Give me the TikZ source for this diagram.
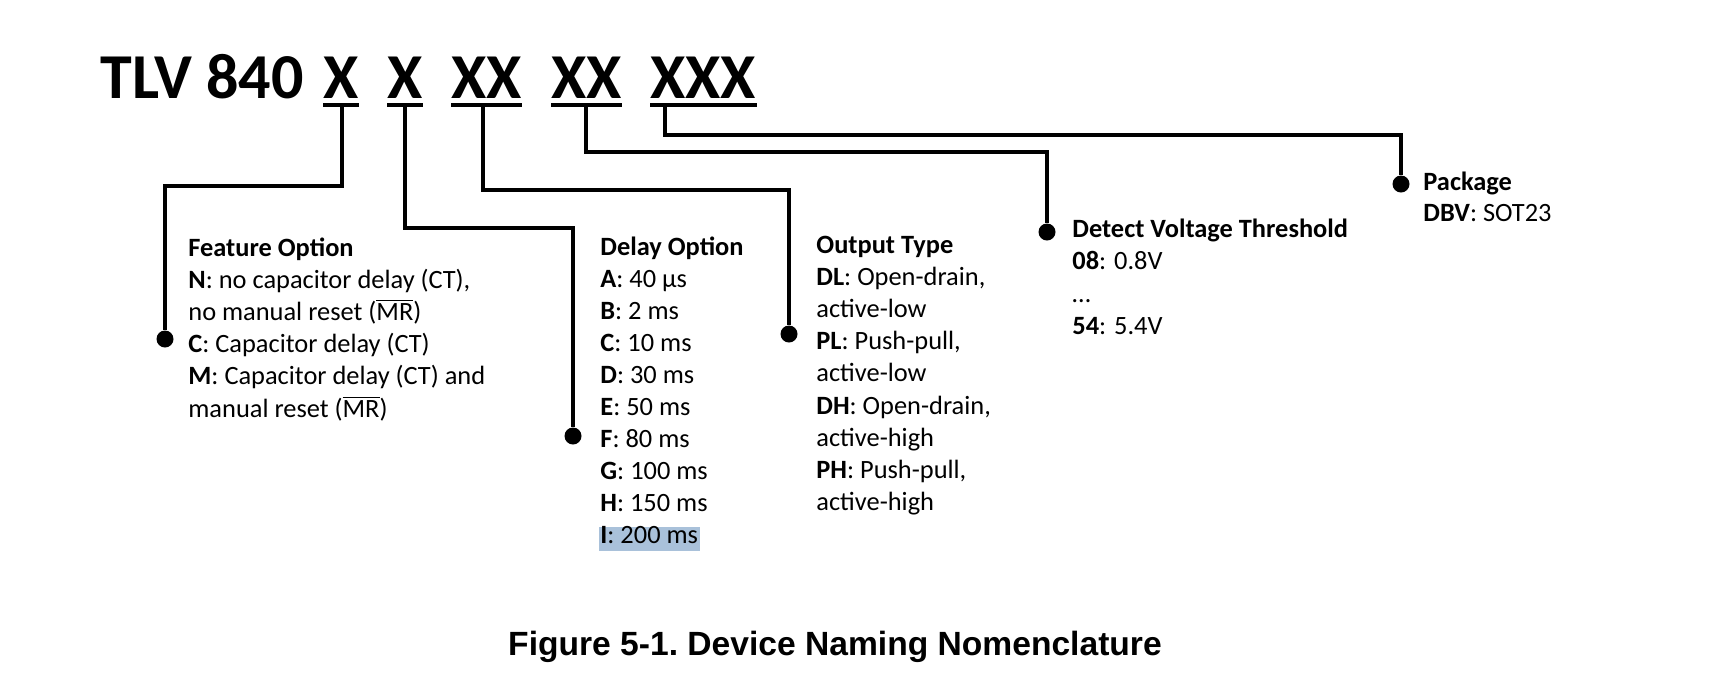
\documentclass[tikz,border=0pt]{standalone}
\usepackage{fontspec}
\setmainfont{Carlito}
\newfontfamily\capfont{Liberation Sans}
\definecolor{hlblue}{RGB}{169,193,218}

\tikzset{
  lead/.style={line width=1.8pt},
  pin/.style={circle, fill=black, inner sep=0pt, minimum size=8.5pt},
  partno/.style={font=\fontsize{32}{38}\selectfont\bfseries, inner sep=0pt, anchor=base west},
  item/.style={font=\fontsize{13.2}{16}\selectfont, inner sep=0pt, anchor=base west},
}
\newcommand{\mrbar}{\(\overline{\mbox{MR}}\)}

\begin{document}
\begin{tikzpicture}[x=0.5pt, y=-0.5pt]
    \useasboundingbox (0,0) rectangle (1735,677);
    % part number
    \node[partno] (base) at (100,98) {TLV 840};
    \node[partno] (g1) at (323,98) {X};
    \node[partno] (g2) at (387,98) {X};
    \node[partno] (g3) at (451,98) {XX};
    \node[partno] (g4) at (551,98) {XX};
    \node[partno] (g5) at (650,98) {XXX};
    \foreach \g in {g1,g2,g3,g4,g5}
        \draw[lead] (\g.west |- 0,105) -- (\g.east |- 0,105);
    \coordinate (t1) at (342,105);
    \coordinate (t2) at (405,105);
    \coordinate (t3) at (483,105);
    \coordinate (t4) at (586,105);
    \coordinate (t5) at (665,105);
    % dots
    \node[pin] (d1) at (165,339) {};
    \node[pin] (d2) at (573,436) {};
    \node[pin] (d3) at (789,334) {};
    \node[pin] (d4) at (1047,232) {};
    \node[pin] (d5) at (1401,184) {};
    % leads
    \draw[lead] (t1) -- ++(0,81) -| (d1);
    \draw[lead] (t2) -- ++(0,123) -| (d2);
    \draw[lead] (t3) -- ++(0,85) -| (d3);
    \draw[lead] (t4) -- ++(0,47) -| (d4);
    \draw[lead] (t5) -- ++(0,30) -| (d5);
    % highlight
    \fill[hlblue] (599,527) rectangle (700,551);
    % option lists
    \foreach \txt [count=\i from 0] in {{\textbf{Feature Option}},
        {\textbf{N}: no capacitor delay (CT),}, {no manual reset (\mrbar)},
        {\textbf{C}: Capacitor delay (CT)}, {\textbf{M}: Capacitor delay (CT) and},
        {manual reset (\mrbar)}}
        \node[item] (feat\i) at (188,256+\i*32.2) {\txt};
    \foreach \txt [count=\i from 0] in {{\textbf{Delay Option}},
        {\textbf{A}: 40 µs}, {\textbf{B}: 2 ms}, {\textbf{C}: 10 ms},
        {\textbf{D}: 30 ms}, {\textbf{E}: 50 ms}, {\textbf{F}: 80 ms},
        {\textbf{G}: 100 ms}, {\textbf{H}: 150 ms}, {\textbf{I}: 200 ms}}
        \node[item] (dly\i) at (600,255+\i*32.1) {\txt};
    \foreach \txt [count=\i from 0] in {{\textbf{Output Type}},
        {\textbf{DL}: Open-drain,}, {active-low}, {\textbf{PL}: Push-pull,},
        {active-low}, {\textbf{DH}: Open-drain,}, {active-high},
        {\textbf{PH}: Push-pull,}, {active-high}}
        \node[item] (out\i) at (816,253+\i*32.2) {\txt};
    \foreach \txt [count=\i from 0] in {{\textbf{Detect Voltage Threshold}},
        {\textbf{08}: 0.8V}, {\ldots}, {\textbf{54}: 5.4V}}
        \node[item] (thr\i) at (1072,237+\i*32.5) {\txt};
    \foreach \txt [count=\i from 0] in {{\textbf{Package}}, {\textbf{DBV}: SOT23}}
        \node[item] (pkg\i) at (1423,190+\i*31.5) {\txt};
    % caption
    \node[font=\capfont\bfseries\fontsize{16.8}{20}\selectfont, inner sep=0pt, anchor=base]
        (cap) at (835,655) {Figure 5-1.\ Device Naming Nomenclature};
\end{tikzpicture}
\end{document}
